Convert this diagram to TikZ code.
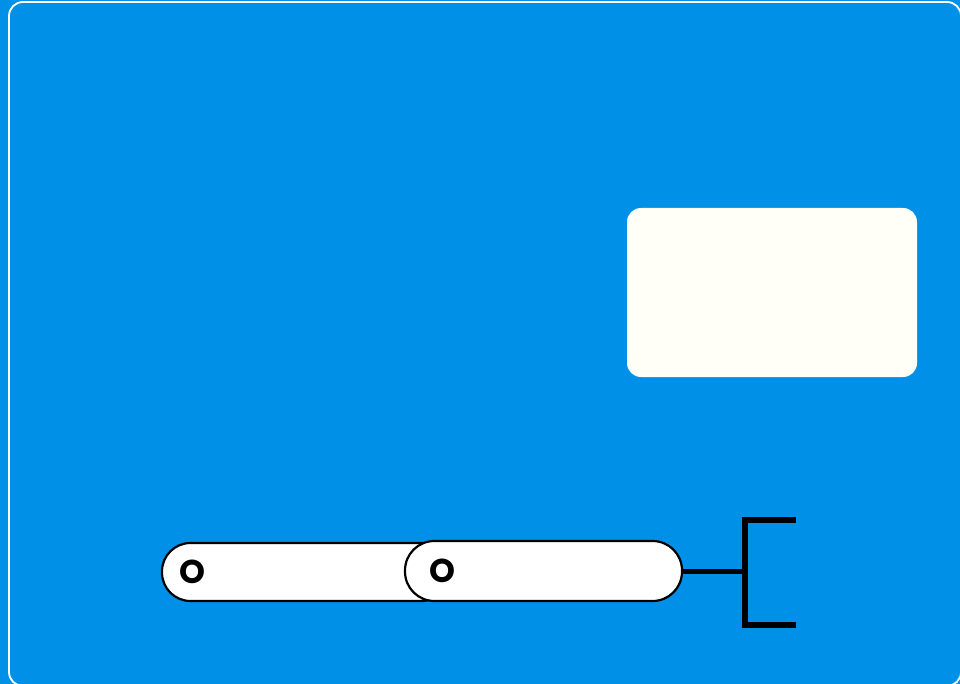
\documentclass[tikz,border=0pt]{standalone}
\usepackage{fontspec}
\newfontfamily\pillfont{Poppins}
\usetikzlibrary{calc,positioning}
\definecolor{skyblue}{HTML}{0090E8}
\definecolor{ivory}{HTML}{FFFFF8}
\tikzset{pill/.style={
  draw=black,fill=white,line width=2.2pt,rectangle,
  minimum height=#1,rounded corners=0.49*#1,
  font=\pillfont\bfseries\fontsize{33}{34}\selectfont,
  text height=23pt,text depth=0pt,
  align=left,inner ysep=0pt
}}
\begin{document}
\begin{tikzpicture}[x=1pt,y=-1pt]
  \useasboundingbox (0,0) rectangle (960,684);
  \fill[skyblue] (0,0) rectangle (960,684);
  \draw[white,line width=1.8pt,rounded corners=14pt] (9,2) rectangle (961,686);
  \fill[ivory,rounded corners=14pt] (627,208) rectangle (917,377);
  \node[pill=58pt,inner xsep=17pt,text width=254pt] (left) at (306,572) {O};
  \node[pill=60pt,inner xsep=24pt,text width=229pt] (right) at (543.5,571) {O};
  \coordinate (fork) at (745,571);
  \coordinate (top) at (796,519.5);
  \coordinate (bot) at (796,625);
  \draw[line width=5pt] (right.east) -- (fork);
  \draw[line width=6pt] (top) -| (fork) |- (bot);
\end{tikzpicture}
\end{document}
